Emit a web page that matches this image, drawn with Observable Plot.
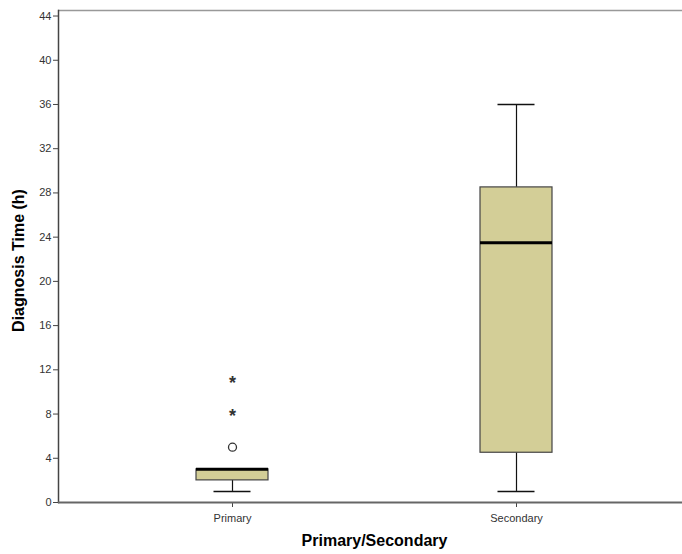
<!DOCTYPE html>
<html>
<head>
<meta charset="utf-8">
<script src="https://cdn.jsdelivr.net/npm/d3@7"></script>
<script src="https://cdn.jsdelivr.net/npm/@observablehq/plot@0.6"></script>
<style>
  html, body { margin: 0; padding: 0; background: #fff; overflow: hidden; }
  #chart svg { display: block; font-family: "Liberation Sans", Arial, sans-serif; }
</style>
</head>
<body>
<div id="chart"></div>
<script>
// Data
const groups = ["Primary", "Secondary"];
const whiskerLow = [1, 1];
const q1 = [2, 4.5];
const medians = [3, 23.5];
const q3 = [3, 28.5];
const whiskerHigh = [3, 36];
const outlierGroups = ["Primary"];
const outlierValues = [5];
const extremeGroups = ["Primary", "Primary"];
const extremeValues = [8, 11];
const yTicks = [0, 4, 8, 12, 16, 20, 24, 28, 32, 36, 40, 44];
const yLabel = "Diagnosis Time (h)";
const xLabel = "Primary/Secondary";

const boxes = groups.map((g, i) => ({
  group: g, lo: whiskerLow[i], q1: q1[i], med: medians[i], q3: q3[i], hi: whiskerHigh[i]
}));
const outliers = outlierGroups.map((g, i) => ({group: g, value: outlierValues[i]}));
const extremes = extremeGroups.map((g, i) => ({group: g, value: extremeValues[i]}));

const chart = Plot.plot({
  width: 682,
  height: 554,
  marginLeft: 58,
  marginRight: 0,
  marginTop: 10,
  marginBottom: 52,
  style: {fontFamily: "Liberation Sans, Arial, sans-serif", fontSize: "11px", color: "#333"},
  x: {type: "band", domain: groups, range: [196, 552], paddingInner: 0.7465, paddingOuter: 0},
  y: {domain: [0, 44.5], ticks: yTicks},
  marks: [
    Plot.ruleY([44.5], {stroke: "#999", strokeWidth: 1.5}),
    Plot.axisY({ticks: yTicks, tickSize: 5, tickPadding: 2, label: null, stroke: "#444", fill: "#333", fontSize: 11}),
    Plot.axisX({tickSize: 5, tickPadding: 7, label: null, stroke: "#444", fill: "#333", fontSize: 11}),
    // whiskers
    Plot.ruleX(boxes, {x: "group", y1: "lo", y2: "q1", stroke: "#111", strokeWidth: 1.2}),
    Plot.ruleX(boxes, {x: "group", y1: "q3", y2: "hi", stroke: "#111", strokeWidth: 1.2}),
    Plot.tickY(boxes, {x: "group", y: "lo", stroke: "#111", strokeWidth: 1.5, insetLeft: 17.5, insetRight: 17.5}),
    Plot.tickY(boxes, {x: "group", y: "hi", stroke: "#111", strokeWidth: 1.5, insetLeft: 17.5, insetRight: 17.5}),
    // boxes
    Plot.barY(boxes, {x: "group", y1: "q1", y2: "q3", fill: "#d3ce97", stroke: "#444", strokeWidth: 1.2}),
    Plot.tickY(boxes, {x: "group", y: "med", stroke: "#000", strokeWidth: 3}),
    // outliers
    Plot.dot(outliers, {x: "group", y: "value", r: 4, stroke: "#333", strokeWidth: 1.3, fill: "white"}),
    Plot.text(extremes, {x: "group", y: "value", text: () => "*", fontSize: 18, fontWeight: "bold", dy: 2, fill: "#333"}),
    // axis frame lines
    Plot.frame({anchor: "left", stroke: "#444", strokeWidth: 1.5}),
    Plot.ruleY([0], {stroke: "#666", strokeWidth: 2}),
    // axis titles
    Plot.text([yLabel], {frameAnchor: "left", text: d => d, textAnchor: "middle", rotate: -90, dx: -40, dy: 4, fontSize: 16, fontWeight: "bold", fill: "#000"}),
    Plot.text([xLabel], {frameAnchor: "bottom", text: d => d, textAnchor: "middle", dx: 4, dy: 43, fontSize: 16, fontWeight: "bold", fill: "#000"})
  ]
});
document.getElementById("chart").appendChild(chart);
</script>
</body>
</html>
